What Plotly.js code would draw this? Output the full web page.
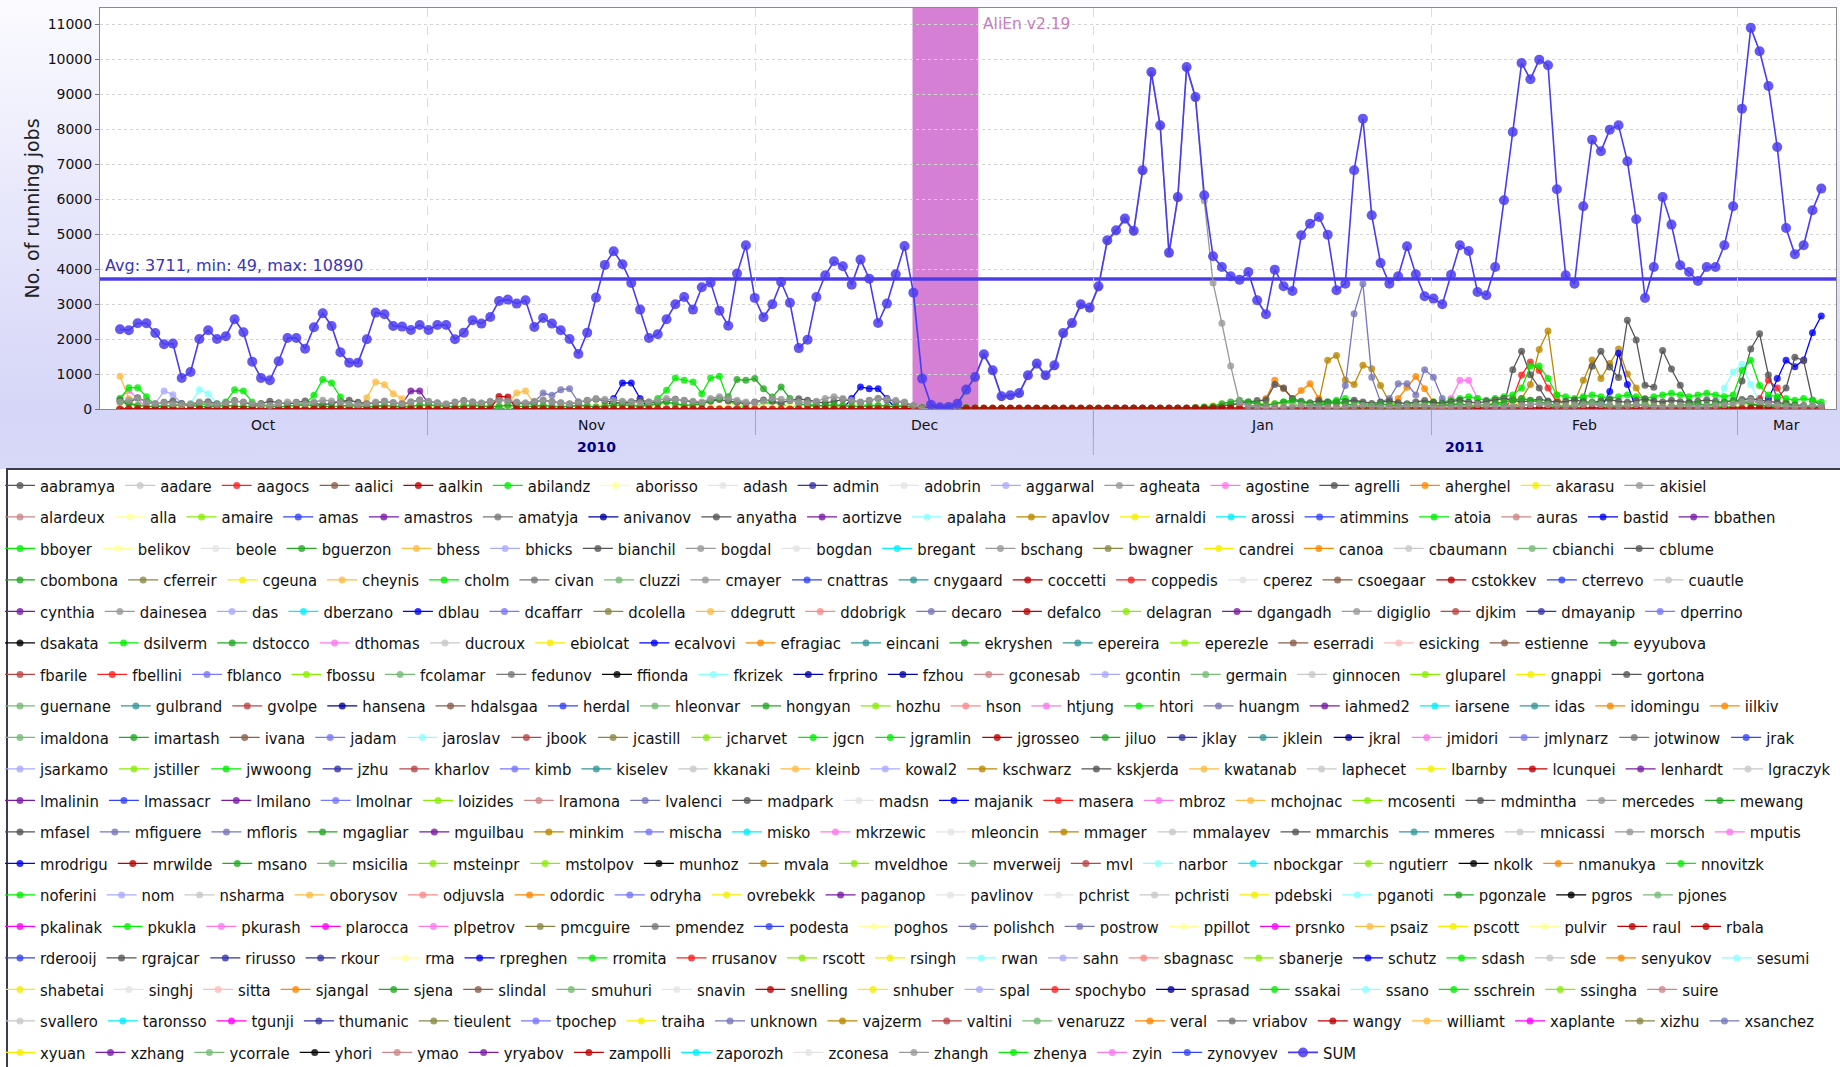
<!DOCTYPE html>
<html><head><meta charset="utf-8">
<script src="https://cdn.plot.ly/plotly-3.0.1.min.js"></script>
<style>
html,body{margin:0;padding:0;background:#fff;}
#chart{width:1840px;height:1067px;background:linear-gradient(to bottom,#fbfbff 0px,#e6e6fb 220px,#d6d6f8 409px,#d8d8f8 469px,#ffffff 469px,#ffffff 1067px);}
</style></head><body><div id="chart"></div>
<script>
// ---------- axis / time data ----------
const monthLabels = ['Oct','Nov','Dec','Jan','Feb','Mar'];
const monthStarts = ['2010-10-01','2010-11-01','2010-12-01','2011-01-01','2011-02-01','2011-03-01','2011-04-01'];
const yearLabels = ['2010','2011'];
const yearStarts = ['2010-01-01','2011-01-01','2012-01-01'];
const viewStart = '2010-10-01 23:05';
const viewEnd = '2011-03-10 01:40';
const firstSample = '2010-10-03 19:05';
const sampleStepHours = 19.39;
const releaseLabel = 'AliEn v2.19';
const releaseStart = '2010-12-15 10:20';
const releaseEnd = '2010-12-21 11:00';
const avgJobs = 3711, minJobs = 49, maxJobs = 10890;

// ---------- series values (running jobs per sample) ----------
const sumJobs = [2278,2250,2450,2450,2173,1850,1868,886,1058,2001,
 2250,2001,2077,2563,2192,1353,886,820,1363,2030,
 2030,1725,2335,2735,2373,1620,1325,1325,1992,2754,
 2706,2373,2354,2259,2402,2259,2402,2402,1992,2182,
 2535,2440,2630,3088,3126,3011,3107,2345,2602,2440,
 2249,2001,1572,2182,3183,4117,4508,4136,3602,2840,
 2030,2135,2564,2992,3202,2840,3480,3611,2810,2380,
 3868,4680,3175,2620,2991,3630,3035,1740,1982,3200,
 3820,4220,4077,3553,4268,3725,2457,3011,3848,4657,
 3325,868,120,49,60,150,554,914,1563,1105,
 363,391,457,963,1297,963,1248,2171,2457,2991,
 2897,3506,4820,5105,5440,5095,6820,9628,8105,4468,
 6057,9771,8914,6105,4363,4057,3791,3690,3914,3106,
 2706,3982,3506,3372,4963,5296,5486,4982,3391,3582,
 6820,8296,5534,4172,3582,3791,4648,3848,3220,3154,
 2991,3838,4677,4514,3343,3248,4057,5963,7914,9885,
 9420,9982,9820,6277,3820,3582,5791,7696,7362,7982,
 8105,7077,5420,3171,4057,6057,5268,4105,3914,3657,
 4057,4057,4677,5791,8582,10890,10220,9228,7486,5171,
 4420,4677,5677,6297];
const agheataJobs = [200,250,320,200,150,180,150,120,150,200,
 150,130,180,220,200,150,120,100,150,200,
 180,150,200,250,230,200,150,120,150,200,
 220,180,150,200,250,220,180,150,200,230,
 200,180,220,250,230,200,180,220,250,200,
 180,150,200,250,300,280,250,220,200,180,
 200,250,300,280,250,220,200,300,350,300,
 250,200,180,220,300,280,250,200,180,220,
 300,350,300,250,200,250,300,280,250,200,
 100,20,10,10,10,50,500,880,1520,1070,
 330,360,420,930,1260,930,1210,2130,2420,2950,
 2860,3460,4780,5060,5400,5050,6780,9580,8060,4420,
 6010,9730,8870,5950,3600,2450,1230,180,80,60,
 50,40,60,80,100,80,60,50,40,60,
 80,100,80,60,50,60,80,100,80,60,
 50,60,80,100,120,100,80,60,80,100,
 120,150,120,100,80,100,120,150,120,100,
 80,100,120,100,80,60,80,100,80,60,
 80,100,120,150,200,250,200,150,100,80,
 60,80,100,80];
const bianchilJobs = [250,180,320,210,140,190,230,160,120,180,
 210,150,170,240,190,130,160,220,180,140,
 190,230,170,120,160,210,250,190,150,170,
 220,180,140,200,260,210,170,130,190,240,
 200,160,210,270,230,180,150,200,250,210,
 170,140,190,240,280,230,190,160,210,250,
 200,170,230,280,240,200,160,220,270,230,
 190,150,200,260,220,180,240,290,250,200,
 170,220,270,230,190,240,300,260,210,180,
 90,20,10,10,10,10,10,10,10,10,
 10,10,10,10,10,10,10,10,10,10,
 10,10,10,10,10,10,10,10,10,10,
 10,10,20,30,50,80,120,160,200,240,
 260,700,600,300,220,180,240,200,170,210,
 250,200,160,190,230,180,150,200,240,190,
 160,210,250,200,170,220,260,300,250,200,
 240,280,230,190,220,260,210,180,230,270,
 220,190,240,280,230,200,250,210,180,220,
 260,220,190,230,270,300,250,210,180,150,
 120,100,80,60];
const allaJobs = [80,120,60,90,40,70,110,50,90,130,
 70,40,100,60,80,120,50,90,70,40,
 110,60,90,130,70,50,100,80,60,120,
 90,50,80,110,60,100,70,40,90,120,
 60,100,130,80,50,90,120,70,110,60,
 80,120,90,50,100,140,80,60,110,90,
 50,90,130,70,100,60,120,80,50,100,
 130,90,60,110,80,50,100,120,70,90,
 60,110,80,130,90,60,100,70,50,90,
 40,10,0,0,0,0,0,0,0,0,
 0,0,0,0,0,0,0,0,0,0,
 0,0,0,0,0,0,0,0,0,0,
 0,20,40,80,120,150,100,90,140,180,
 200,160,120,90,130,170,110,80,120,160,
 130,90,110,150,120,80,100,140,110,90,
 120,160,130,100,140,180,220,260,200,150,
 130,170,140,110,150,120,90,130,160,120,
 100,140,110,80,120,150,110,90,130,100,
 80,120,150,110,90,130,170,120,90,70,
 90,60,80,50];
const abilandzJobs = [300,610,610,350,100,80,60,60,80,150,
 100,120,200,553,515,200,100,80,60,60,
 80,150,390,840,745,343,100,80,60,60,
 80,60,50,80,100,80,60,60,80,100,
 120,100,80,60,80,100,120,100,80,60,
 60,80,100,80,60,80,150,200,120,80,
 150,300,534,886,820,772,438,886,934,248,
 100,80,60,150,200,120,80,100,150,100,
 80,60,80,100,120,100,80,60,80,100,
 60,40,30,30,40,60,40,30,20,20,
 20,20,20,20,20,20,20,20,20,20,
 20,20,20,20,20,20,20,20,20,20,
 20,20,30,50,80,100,120,150,100,80,
 120,150,200,150,100,120,150,200,250,300,
 200,150,100,120,150,100,80,120,150,200,
 150,120,100,80,100,120,150,100,80,100,
 120,150,100,80,60,80,100,120,100,80,
 60,80,100,120,100,80,60,80,100,120,
 100,80,60,80,100,120,100,80,60,80,
 60,80,60,40];
const dstoccoJobs = [200,150,100,80,60,80,100,120,100,80,
 60,80,100,80,60,80,100,80,60,80,
 100,120,100,80,60,80,100,80,60,80,
 100,80,60,80,100,120,100,80,60,80,
 100,80,60,80,100,80,60,80,100,80,
 60,80,100,80,60,80,100,120,100,80,
 100,150,200,150,100,120,150,250,300,350,
 840,820,870,580,340,630,300,150,100,80,
 100,120,100,80,60,80,100,80,60,80,
 40,20,10,10,10,10,10,10,10,10,
 10,10,10,10,10,10,10,10,10,10,
 10,10,10,10,10,10,10,10,10,10,
 10,20,40,60,80,150,200,250,200,150,
 100,150,200,250,200,150,100,150,200,150,
 100,80,100,150,100,80,100,120,100,80,
 100,120,150,100,80,100,150,200,250,300,
 250,200,150,100,80,100,150,200,150,100,
 80,100,120,100,80,60,80,100,120,150,
 100,150,200,250,200,150,100,80,100,120,
 100,80,60,50];
const cheynisJobs = [934,300,0,0,0,0,0,0,0,0,
 0,0,0,0,0,0,0,0,0,0,
 0,0,0,0,0,0,0,0,324,772,
 696,438,295,0,0,0,0,0,0,0,
 0,0,0,0,150,457,515,150,0,0,
 0,0,0,0,0,0,0,0,0,0,
 0,0,0,0,0,0,0,0,0,0,
 0,0,0,0,0,0,0,0,0,0,
 0,0,0,0,0,0,0,0,0,0,
 0,0,0,0,0,0,0,0,0,0,
 0,0,0,0,0,0,0,0,0,0,
 0,0,0,0,0,0,0,0,0,0,
 0,0,0,0,0,0,0,0,0,0,
 0,0,0,0,0,0,0,0,0,0,
 0,0,0,0,0,0,0,0,0,0,
 0,0,0,0,0,0,0,0,0,0,
 0,0,0,0,0,0,0,0,0,0,
 0,0,0,0,0,0,0,0,0,0,
 0,0,0,0,0,0,0,0,0,0,
 0,0,0,0];
const amastrosJobs = [0,0,0,0,0,0,0,0,0,0,
 0,0,0,0,0,0,0,0,0,0,
 0,0,0,0,0,0,0,0,0,0,
 0,0,150,515,515,150,0,0,0,0,
 0,0,0,0,0,0,0,0,0,0,
 0,0,0,0,0,0,0,0,0,0,
 0,0,0,0,0,0,0,0,0,0,
 0,0,0,0,0,0,0,0,0,0,
 0,0,0,0,0,0,0,0,0,0,
 0,0,0,0,0,0,0,0,0,0,
 0,0,0,0,0,0,0,0,0,0,
 0,0,0,0,0,0,0,0,0,0,
 0,0,0,0,0,0,0,0,0,0,
 0,0,0,0,0,0,0,0,0,0,
 0,0,0,0,0,0,0,0,0,0,
 0,0,0,0,0,0,0,0,0,0,
 0,0,0,0,0,0,0,0,0,0,
 0,0,0,0,0,0,0,0,0,0,
 0,0,0,0,0,0,0,0,0,0,
 0,0,0,0];
const apalahaJobs = [0,0,0,0,0,0,0,0,150,553,
 438,150,0,0,0,0,0,0,0,0,
 0,0,0,0,0,0,0,0,0,0,
 0,0,0,0,0,0,0,0,0,0,
 0,0,0,0,0,0,0,0,0,0,
 0,0,0,0,0,0,0,0,0,0,
 0,0,0,0,0,0,0,0,0,0,
 0,0,0,0,0,0,0,0,0,0,
 0,0,0,0,0,0,0,0,0,0,
 0,0,0,0,0,0,0,0,0,0,
 0,0,0,0,0,0,0,0,0,0,
 0,0,0,0,0,0,0,0,0,0,
 0,0,0,0,0,0,0,0,0,0,
 0,0,0,0,0,0,0,0,0,0,
 0,0,0,0,0,0,0,0,0,0,
 0,0,0,0,0,0,0,0,0,0,
 0,0,0,0,0,0,0,0,0,0,
 0,0,0,0,0,0,0,0,0,0,
 0,0,600,1057,1277,700,200,0,0,0,
 0,0,0,0];
const aggarwalJobs = [0,0,0,0,150,515,410,150,0,0,
 0,0,0,0,0,0,0,0,0,0,
 0,0,0,0,0,0,0,0,0,0,
 0,0,0,0,0,0,0,0,0,0,
 0,0,0,0,0,0,0,0,0,0,
 0,0,0,0,0,0,0,0,0,0,
 0,0,0,0,0,0,0,0,0,0,
 0,0,0,0,0,0,0,0,0,0,
 0,0,0,0,0,0,0,0,0,0,
 0,0,0,0,0,0,0,0,0,0,
 0,0,0,0,0,0,0,0,0,0,
 0,0,0,0,0,0,0,0,0,0,
 0,0,0,0,0,0,0,0,0,0,
 0,0,0,0,0,0,0,0,0,0,
 0,0,0,0,0,0,0,0,0,0,
 0,0,0,0,0,0,0,0,0,0,
 0,0,0,0,0,0,0,0,0,0,
 0,0,0,0,0,0,0,0,0,0,
 0,0,0,0,0,0,0,0,0,0,
 0,0,0,0];
const apavlovJobs = [0,0,0,0,0,0,0,0,0,0,
 0,0,0,0,0,0,0,0,0,0,
 0,0,0,0,0,0,0,0,0,0,
 0,0,0,0,0,0,0,0,0,0,
 0,0,0,0,0,0,0,0,0,0,
 0,0,0,0,0,0,0,0,0,0,
 0,0,0,0,0,0,0,0,0,0,
 0,0,0,0,0,0,0,0,0,0,
 0,0,0,0,0,0,0,0,0,0,
 0,0,0,0,0,0,0,0,0,0,
 0,0,0,0,0,0,0,0,0,0,
 0,0,0,0,0,0,0,0,0,0,
 0,0,0,0,0,0,0,0,0,0,
 0,0,0,0,0,0,200,1390,1530,830,
 700,1250,1150,670,200,0,0,0,0,0,
 0,0,0,0,0,0,0,0,0,300,
 700,1700,2230,400,0,200,820,1400,870,1300,
 1715,1000,600,200,0,0,0,0,0,0,
 0,0,0,0,0,0,0,0,0,0,
 0,0,0,0];
const cblumeJobs = [0,0,0,0,0,0,0,0,0,0,
 0,0,0,0,0,0,0,0,0,0,
 0,0,0,0,0,0,0,0,0,0,
 0,0,0,0,0,0,0,0,0,0,
 0,0,0,0,0,0,0,0,0,0,
 0,0,0,0,0,0,0,0,0,0,
 0,0,0,0,0,0,0,0,0,0,
 0,0,0,0,0,0,0,0,0,0,
 0,0,0,0,0,0,0,0,0,0,
 0,0,0,0,0,0,0,0,0,0,
 0,0,0,0,0,0,0,0,0,0,
 0,0,0,0,0,0,0,0,0,0,
 0,0,0,0,0,0,0,0,0,0,
 0,0,0,0,0,0,0,0,0,0,
 0,0,0,0,0,0,0,0,0,0,
 0,0,0,0,0,0,0,100,1125,1650,
 980,600,200,0,0,0,300,1220,1650,1200,
 900,2534,1972,680,620,1670,1143,680,200,0,
 0,0,0,0,800,1716,2150,970,300,600,
 1480,1380,250,100];
const bastidJobs = [0,0,0,0,0,0,0,0,0,0,
 0,0,0,0,0,0,0,0,0,0,
 0,0,0,0,0,0,0,0,0,0,
 0,0,0,0,0,0,0,0,0,0,
 0,0,0,0,0,0,0,0,0,0,
 0,0,0,0,0,0,300,743,743,300,
 0,0,0,0,0,0,0,0,0,0,
 0,0,0,0,0,0,0,0,0,0,
 0,0,0,300,630,580,580,300,0,0,
 0,0,0,0,0,0,0,0,0,0,
 0,0,0,0,0,0,0,0,0,0,
 0,0,0,20,20,20,20,20,20,20,
 20,20,20,20,20,20,0,0,0,0,
 0,0,0,0,0,0,0,0,0,0,
 0,0,0,0,0,0,0,0,0,0,
 0,0,0,0,0,0,0,0,0,0,
 0,0,0,0,0,0,0,0,0,500,
 1590,700,0,0,0,0,0,0,0,0,
 0,0,0,0,0,0,0,300,870,1390,
 1210,1400,2180,2660];
const mflorisJobs = [0,0,0,0,0,0,0,0,0,0,
 0,0,0,0,0,0,0,0,0,0,
 0,0,0,0,0,0,0,0,0,0,
 0,0,0,0,0,0,0,0,0,0,
 0,0,0,0,0,0,0,200,457,390,
 553,581,200,0,0,0,0,0,0,0,
 0,0,0,0,0,0,0,0,0,0,
 0,0,0,0,0,0,0,0,0,0,
 0,0,0,0,0,0,0,0,0,0,
 0,0,0,0,0,0,0,0,0,0,
 0,0,0,0,0,0,0,0,0,0,
 0,0,0,0,0,0,0,0,0,0,
 0,0,0,0,0,0,0,0,0,0,
 0,0,0,0,0,0,0,0,0,670,
 2725,3582,910,200,300,720,720,400,1125,910,
 300,0,0,0,0,0,0,0,0,0,
 0,0,0,0,0,0,0,0,0,0,
 0,0,0,0,0,0,0,0,0,0,
 0,0,0,0,0,0,0,0,0,0,
 0,0,0,0];
const agostineJobs = [300,530,300,0,0,0,0,0,0,0,
 0,0,0,0,0,0,0,0,0,0,
 0,0,0,0,0,0,0,0,0,0,
 0,0,0,0,0,0,0,0,0,0,
 0,0,0,0,0,0,0,0,0,0,
 0,0,0,0,0,0,0,0,0,0,
 0,0,0,0,0,0,0,0,0,0,
 0,0,0,0,0,0,0,0,0,0,
 0,0,0,0,0,0,0,0,0,0,
 0,0,0,0,0,0,0,0,0,0,
 0,0,0,0,0,0,0,0,0,0,
 0,0,0,0,0,0,0,0,0,0,
 0,0,0,0,0,0,0,0,0,0,
 0,0,0,0,0,0,0,0,0,0,
 0,0,0,0,0,0,0,0,0,0,
 0,300,820,820,300,0,0,0,0,0,
 0,0,0,0,0,0,0,0,0,0,
 0,0,0,0,0,0,0,0,0,0,
 0,0,0,0,0,0,0,0,0,0,
 0,0,0,0];
const aherghelJobs = [0,0,0,0,0,0,0,0,0,0,
 0,0,0,0,0,0,0,0,0,0,
 0,0,0,0,0,0,0,0,0,0,
 0,0,0,0,0,0,0,0,0,0,
 0,0,0,0,0,0,0,0,0,0,
 0,0,0,0,0,0,0,0,0,0,
 0,0,0,0,0,0,0,0,0,0,
 0,0,0,0,0,0,0,0,0,0,
 0,0,0,0,0,0,0,0,0,0,
 0,0,0,0,0,0,0,0,0,0,
 0,0,0,0,0,0,0,0,0,0,
 0,0,0,0,0,0,0,0,0,0,
 0,0,0,0,0,0,0,0,0,0,
 300,820,580,300,530,720,300,0,0,0,
 0,0,0,0,0,300,620,930,580,200,
 0,0,0,0,0,0,0,0,0,0,
 0,0,0,0,0,0,0,0,0,0,
 0,0,0,0,0,0,0,0,0,0,
 0,0,0,0,0,0,0,0,0,0,
 0,0,0,0];
const aagocsJobs = [0,0,0,0,0,0,0,0,0,0,
 0,0,0,0,0,0,0,0,0,0,
 0,0,0,0,0,0,0,0,0,0,
 0,0,0,0,0,0,0,0,0,0,
 0,0,0,0,0,0,0,0,0,0,
 0,0,0,0,0,0,0,0,0,0,
 0,0,0,0,0,0,0,0,0,0,
 0,0,0,0,0,0,0,0,0,0,
 0,0,0,0,0,0,0,0,0,0,
 0,0,0,0,0,0,0,0,0,0,
 0,0,0,0,0,0,0,0,0,0,
 0,0,0,0,0,0,0,0,0,0,
 0,0,0,0,0,0,0,0,0,0,
 0,0,0,0,0,0,0,0,0,0,
 0,0,0,0,0,0,0,0,0,0,
 0,0,0,0,0,0,0,0,300,970,
 1340,1100,600,200,0,0,0,0,0,0,
 0,0,0,0,0,0,0,0,0,0,
 0,0,0,0,0,0,300,820,600,200,
 0,0,0,0];
const htoriJobs = [0,0,0,0,0,0,0,0,0,0,
 0,0,0,0,0,0,0,0,0,0,
 0,0,0,0,0,0,0,0,0,0,
 0,0,0,0,0,0,0,0,0,0,
 0,0,0,0,0,0,0,0,0,0,
 0,0,0,0,0,0,0,0,0,0,
 0,0,0,0,0,0,0,0,0,0,
 0,0,0,0,0,0,0,0,0,0,
 0,0,0,0,0,0,0,0,0,0,
 0,0,0,0,0,0,0,0,0,0,
 0,0,0,0,0,0,0,0,0,0,
 0,0,0,0,0,0,0,0,0,0,
 0,0,0,0,0,0,0,0,0,0,
 0,0,0,0,0,0,0,0,0,0,
 0,0,0,0,0,0,0,0,0,0,
 200,250,300,350,300,250,300,350,400,600,
 1230,1230,870,400,350,300,350,400,350,300,
 350,400,350,300,350,400,450,400,350,400,
 450,400,350,400,1100,1390,670,400,350,300,
 250,300,250,200];
const aalkinJobs = [0,0,0,0,0,0,0,0,0,0,
 0,0,0,0,0,0,0,0,0,0,
 0,0,0,0,0,0,0,0,0,0,
 0,0,0,0,0,0,0,0,0,0,
 0,0,0,360,340,0,0,0,0,0,
 0,0,0,0,0,0,0,0,0,0,
 0,0,0,0,0,0,0,0,0,0,
 0,0,0,0,0,0,0,0,0,0,
 0,0,0,0,0,0,0,0,0,0,
 30,30,30,30,30,30,30,30,30,30,
 30,30,30,30,30,30,30,30,30,30,
 30,30,30,30,30,30,30,30,30,30,
 30,30,30,30,30,30,30,30,30,30,
 30,30,30,30,30,30,30,30,30,30,
 30,30,30,30,30,30,30,30,30,30,
 30,30,30,30,30,30,30,30,30,30,
 30,30,30,30,30,30,30,30,30,30,
 30,30,30,30,30,30,30,30,30,30,
 30,30,30,30,30,30,30,30,30,30,
 30,30,30,30];

// ---------- legend rows (user names) ----------
const userRows = [
 ['aabramya','aadare','aagocs','aalici','aalkin','abilandz','aborisso','adash','admin','adobrin','aggarwal','agheata','agostine','agrelli','aherghel','akarasu','akisiel'],
 ['alardeux','alla','amaire','amas','amastros','amatyja','anivanov','anyatha','aortizve','apalaha','apavlov','arnaldi','arossi','atimmins','atoia','auras','bastid','bbathen'],
 ['bboyer','belikov','beole','bguerzon','bhess','bhicks','bianchil','bogdal','bogdan','bregant','bschang','bwagner','candrei','canoa','cbaumann','cbianchi','cblume'],
 ['cbombona','cferreir','cgeuna','cheynis','cholm','civan','cluzzi','cmayer','cnattras','cnygaard','coccetti','coppedis','cperez','csoegaar','cstokkev','cterrevo','cuautle'],
 ['cynthia','dainesea','das','dberzano','dblau','dcaffarr','dcolella','ddegrutt','ddobrigk','decaro','defalco','delagran','dgangadh','digiglio','djkim','dmayanip','dperrino'],
 ['dsakata','dsilverm','dstocco','dthomas','ducroux','ebiolcat','ecalvovi','efragiac','eincani','ekryshen','epereira','eperezle','eserradi','esicking','estienne','eyyubova'],
 ['fbarile','fbellini','fblanco','fbossu','fcolamar','fedunov','ffionda','fkrizek','frprino','fzhou','gconesab','gcontin','germain','ginnocen','gluparel','gnappi','gortona'],
 ['guernane','gulbrand','gvolpe','hansena','hdalsgaa','herdal','hleonvar','hongyan','hozhu','hson','htjung','htori','huangm','iahmed2','iarsene','idas','idomingu','iilkiv'],
 ['imaldona','imartash','ivana','jadam','jaroslav','jbook','jcastill','jcharvet','jgcn','jgramlin','jgrosseo','jiluo','jklay','jklein','jkral','jmidori','jmlynarz','jotwinow','jrak'],
 ['jsarkamo','jstiller','jwwoong','jzhu','kharlov','kimb','kiselev','kkanaki','kleinb','kowal2','kschwarz','kskjerda','kwatanab','laphecet','lbarnby','lcunquei','lenhardt','lgraczyk'],
 ['lmalinin','lmassacr','lmilano','lmolnar','loizides','lramona','lvalenci','madpark','madsn','majanik','masera','mbroz','mchojnac','mcosenti','mdmintha','mercedes','mewang'],
 ['mfasel','mfiguere','mfloris','mgagliar','mguilbau','minkim','mischa','misko','mkrzewic','mleoncin','mmager','mmalayev','mmarchis','mmeres','mnicassi','morsch','mputis'],
 ['mrodrigu','mrwilde','msano','msicilia','msteinpr','mstolpov','munhoz','mvala','mveldhoe','mverweij','mvl','narbor','nbockgar','ngutierr','nkolk','nmanukya','nnovitzk'],
 ['noferini','nom','nsharma','oborysov','odjuvsla','odordic','odryha','ovrebekk','paganop','pavlinov','pchrist','pchristi','pdebski','pganoti','pgonzale','pgros','pjones'],
 ['pkalinak','pkukla','pkurash','plarocca','plpetrov','pmcguire','pmendez','podesta','poghos','polishch','postrow','ppillot','prsnko','psaiz','pscott','pulvir','raul','rbala'],
 ['rderooij','rgrajcar','rirusso','rkour','rma','rpreghen','rromita','rrusanov','rscott','rsingh','rwan','sahn','sbagnasc','sbanerje','schutz','sdash','sde','senyukov','sesumi'],
 ['shabetai','singhj','sitta','sjangal','sjena','slindal','smuhuri','snavin','snelling','snhuber','spal','spochybo','sprasad','ssakai','ssano','sschrein','ssingha','suire'],
 ['svallero','taronsso','tgunji','thumanic','tieulent','tpochep','traiha','unknown','vajzerm','valtini','venaruzz','veral','vriabov','wangy','williamt','xaplante','xizhu','xsanchez'],
 ['xyuan','xzhang','ycorrale','yhori','ymao','yryabov','zampolli','zaporozh','zconesa','zhangh','zhenya','zyin','zynovyev','SUM']
];
// ---------- colour codes per user (styles) ----------
const palette = {G5:'#555555',G7:'#777777',G9:'#999999',GC:'#c8c8c8',GE:'#e4e4e4',R:'#ff2020',BR:'#8b5e4a',DR:'#c00000',
 GR:'#00ee00',LY:'#ffff99',B3:'#3333aa',LV:'#aaaaff',PK:'#ff77ee',OR:'#ff8800',YE:'#f5ee00',RB:'#cc8888',YG:'#88ee00',
 BL:'#3344ff',PU:'#7a1aa8',NV:'#0000a0',LC:'#88ffff',GO:'#bb8800',CY:'#00eeff',BU:'#0000ff',DG:'#22aa22',LO:'#ffbb44',
 OL:'#888844',LG:'#77bb77',TE:'#339999',SA:'#ff8888',LP:'#ffbbbb',SL:'#7777bb',MB:'#7777ff',BK:'#000000',MG:'#ff00ff',
 RD:'#bb4444',SU:'#4a3cf0'};
const colorRows = [
 ['G5','GC','R','BR','DR','GR','LY','GE','B3','GE','LV','G9','PK','G5','OR','YE','G9'],
 ['RB','LY','YG','BL','PU','G7','NV','G5','PU','LC','GO','YE','CY','BL','GR','RB','BU','PU'],
 ['GR','LY','GE','DG','LO','LV','G5','G9','GE','CY','G9','OL','YE','OR','GC','LG','G5'],
 ['DG','OL','YE','LO','GR','G7','LG','G9','BL','TE','DR','R','GE','BR','DR','BL','GC'],
 ['PU','G9','LV','CY','BU','MB','OL','LO','SA','SL','DR','YG','PU','G9','RD','B3','MB'],
 ['BK','GR','DG','PK','GC','YE','BU','OR','TE','DG','TE','YG','BR','LP','BR','DG'],
 ['RD','R','MB','YG','LG','G7','BK','LC','NV','NV','RB','LV','LG','GC','YG','YE','G5'],
 ['LG','TE','RD','NV','BR','BL','LG','DG','YG','SA','PK','GR','SL','PU','CY','TE','OR','OR'],
 ['LG','DG','BR','MB','LC','RD','OL','YG','GR','GR','DR','DG','B3','TE','NV','PK','MB','G7','BL'],
 ['LV','YG','GR','B3','RD','MB','TE','GC','LO','LV','GO','G5','LO','GC','YE','DR','PU','GC'],
 ['PU','BL','PU','MB','YG','RB','SL','G5','GE','BU','R','PK','LO','YG','G5','G9','DG'],
 ['G5','SL','SL','DG','PU','GO','MB','CY','PK','GE','GO','GC','G5','TE','GC','G9','PK'],
 ['BU','DR','DG','LG','YG','YG','BK','GO','YG','LG','RD','LC','CY','YG','BK','OR','GR'],
 ['GR','LV','GC','LO','SA','OR','MB','YE','PU','GE','GE','GC','YE','LC','DG','BK','LG'],
 ['MG','GR','PK','MG','PK','OL','G7','BL','LY','SL','SL','LY','MG','LO','YE','LY','DR','DR'],
 ['BL','G5','B3','B3','LY','BU','GR','R','YG','YE','LC','LV','SA','YG','BU','GR','GC','OR','LC'],
 ['YE','GE','LP','OR','DG','BR','LG','GE','DR','YE','LV','R','NV','GR','LC','GR','YG','RB'],
 ['GC','CY','MG','B3','OL','MB','YE','SL','GO','RD','LG','OR','G7','DR','LO','MG','OL','SL'],
 ['YE','PU','LG','BK','RB','PU','DR','CY','GE','G9','GR','PK','BL','SU']
];

// lookup table of the series
const seriesByUser = {SUM: sumJobs, agheata: agheataJobs, bianchil: bianchilJobs, alla: allaJobs, abilandz: abilandzJobs,
 dstocco: dstoccoJobs, cheynis: cheynisJobs, amastros: amastrosJobs, apalaha: apalahaJobs, aggarwal: aggarwalJobs,
 apavlov: apavlovJobs, cblume: cblumeJobs, bastid: bastidJobs, mfloris: mflorisJobs, agostine: agostineJobs,
 aherghel: aherghelJobs, aagocs: aagocsJobs, htori: htoriJobs, aalkin: aalkinJobs};
// drawing layers (higher = drawn later, on top)
const baselineUsers = ['alla', 'bianchil', 'dstocco', 'abilandz'];
const topUsers = ['aalkin', 'agheata', 'SUM'];

// ---------- helpers ----------
function toMs(s){ return Date.parse(s.length === 10 ? s + 'T00:00:00Z' : s.replace(' ', 'T') + ':00Z'); }
function toStr(ms){ return new Date(ms).toISOString().slice(0, 19).replace('T', ' '); }
const t0 = toMs(firstSample);
const sampleTimes = sumJobs.map((_, i) => toStr(t0 + i * sampleStepHours * 3600000));

// layout geometry (pixels)
const W = 1840, H = 1067, mL = 100, mR = 4, mT = 8, mB = 658;
const plotW = W - mL - mR, plotH = H - mT - mB;
const px2x = p => (p - mL) / plotW;
const px2y = p => (mT + plotH - p) / plotH;
const FONT = 'DejaVu Sans, Verdana, sans-serif';
const LEGFONT = 'DejaVu Sans Condensed, Liberation Sans Narrow, Liberation Sans, Arial, sans-serif';

// ---------- traces ----------
const traces = [];
const layout = {
  width: W, height: H, showlegend: true,
  margin: {l: mL, r: mR, t: mT, b: mB, autoexpand: false},
  paper_bgcolor: 'rgba(0,0,0,0)', plot_bgcolor: '#ffffff',
  font: {family: FONT, size: 14, color: '#111'},
  hovermode: false,
  xaxis: {type: 'date', range: [viewStart, viewEnd], tickvals: monthStarts.slice(1, -1), ticktext: monthStarts.slice(1, -1).map(() => ''),
    showticklabels: false, ticks: 'outside', ticklen: 25, tickwidth: 1, tickcolor: '#a4a4c4',
    showgrid: true, gridcolor: '#dcdcdc', griddash: 'dash', gridwidth: 1,
    showline: true, linecolor: '#8a8a8a', linewidth: 1, mirror: true, zeroline: false, fixedrange: true},
  yaxis: {range: [0, plotH / 0.035], tick0: 0, dtick: 1000, tickformat: 'd', ticks: 'outside', ticklen: 4, tickcolor: '#777',
    tickfont: {family: FONT, size: 14, color: '#111'},
    showgrid: true, gridcolor: '#d4d4d4', griddash: 'dot', gridwidth: 1,
    showline: true, linecolor: '#8a8a8a', linewidth: 1, mirror: true, zeroline: false, fixedrange: true,
    title: {text: 'No. of running jobs', font: {family: FONT, size: 19, color: '#222'}, standoff: 3}},
  shapes: [], annotations: []
};

userRows.forEach((row, r) => {
  const legendId = r === 0 ? 'legend' : 'legend' + (r + 1);
  layout[legendId] = {orientation: 'h', x: px2x(0), xanchor: 'left', y: px2y(485.7 + r * 31.5), yanchor: 'middle',
    bgcolor: 'rgba(0,0,0,0)', borderwidth: 0, itemwidth: 30, tracegroupgap: 0, visible: true,
    font: {family: LEGFONT, size: 16.5, color: '#111'}};
  row.forEach((name, k) => {
    const color = palette[colorRows[r][k]];
    const ys = seriesByUser[name];
    const isSum = name === 'SUM';
    const layer = topUsers.includes(name) ? 3 + topUsers.indexOf(name) : baselineUsers.includes(name) ? 2 : ys ? 1 : 0;
    traces.push({layer: layer, trace: {type: 'scatter', mode: 'lines+markers', name: name, legend: legendId,
      legendrank: k + 1, showlegend: true,
      x: ys ? sampleTimes : [sampleTimes[0]], y: ys ? ys : [null],
      line: {color: color, width: isSum ? 1.6 : 1.3},
      marker: {color: color, size: isSum ? 10 : 7, opacity: isSum ? 0.85 : 0.8},
      hoverinfo: 'skip'}});
  });
});
const data = traces.map((t, i) => ({t, i})).sort((a, b) => (a.t.layer - b.t.layer) || (a.i - b.i)).map(o => o.t.trace);

// release band + label
layout.shapes.push({type: 'rect', xref: 'x', yref: 'paper', x0: releaseStart, x1: releaseEnd, y0: 0, y1: 1,
  fillcolor: '#d57fd5', line: {width: 0}, layer: 'between'});
layout.annotations.push({xref: 'x', yref: 'paper', x: releaseEnd, y: px2y(24), xanchor: 'left', yanchor: 'middle', xshift: 3,
  text: releaseLabel, showarrow: false, font: {family: FONT, size: 15.5, color: '#c97cbe'}});
// average line + label
layout.shapes.push({type: 'line', xref: 'paper', yref: 'y', x0: 0, x1: 1, y0: avgJobs, y1: avgJobs,
  line: {color: '#4b3ee8', width: 3.5}, layer: 'between'});
layout.annotations.push({xref: 'paper', yref: 'y', x: 0, y: avgJobs, xanchor: 'left', yanchor: 'bottom', xshift: 3, yshift: 2,
  text: 'Avg: ' + avgJobs + ', min: ' + minJobs + ', max: ' + maxJobs, showarrow: false,
  font: {family: FONT, size: 16, color: '#3a36b4'}});
// month and year labels in the x-axis band
const vs = toMs(viewStart), ve = toMs(viewEnd);
monthLabels.forEach((m, i) => {
  const a = Math.max(vs, toMs(monthStarts[i])), b = Math.min(ve, toMs(monthStarts[i + 1]));
  if (b > a) layout.annotations.push({xref: 'x', yref: 'paper', x: toStr((a + b) / 2), y: px2y(425), yanchor: 'middle',
    text: m, showarrow: false, font: {family: FONT, size: 14, color: '#111'}});
});
yearLabels.forEach((yl, i) => {
  const a = Math.max(vs, toMs(yearStarts[i])), b = Math.min(ve, toMs(yearStarts[i + 1]));
  if (b > a) layout.annotations.push({xref: 'x', yref: 'paper', x: toStr((a + b) / 2), y: px2y(447), yanchor: 'middle',
    text: '<b>' + yl + '</b>', showarrow: false, font: {family: FONT, size: 14, color: '#000088'}});
  if (i > 0) layout.shapes.push({type: 'line', xref: 'x', yref: 'paper', x0: yearStarts[i], x1: yearStarts[i],
    y0: 0, y1: px2y(455), line: {color: '#a4a4c4', width: 1}});
});
// legend frame
layout.shapes.push({type: 'rect', xref: 'paper', yref: 'paper', x0: px2x(7), x1: px2x(1846), y0: px2y(469), y1: px2y(1075),
  fillcolor: 'rgba(0,0,0,0)', line: {color: '#3c3c4c', width: 2}, layer: 'above'});

Plotly.newPlot('chart', data, layout, {displayModeBar: false, staticPlot: true});
</script></body></html>
